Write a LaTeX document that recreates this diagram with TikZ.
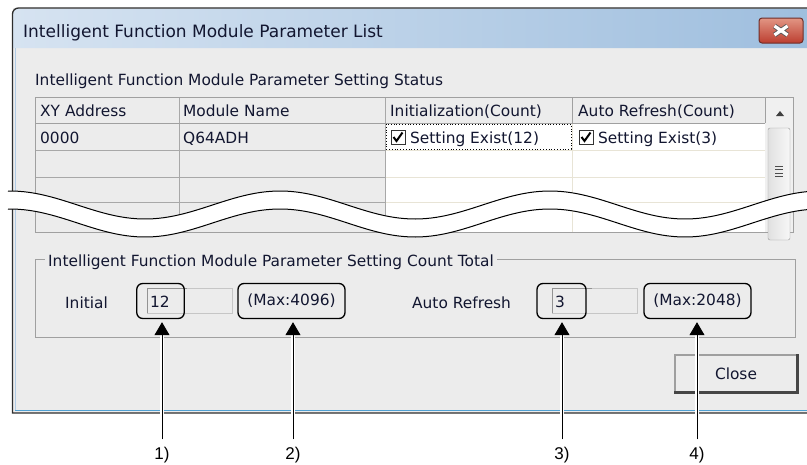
\documentclass[tikz,border=0pt]{standalone}
\usepackage{fontspec}
\setmainfont{DejaVu Sans}
\newfontfamily\numfont{Liberation Sans}
\usetikzlibrary{arrows.meta, positioning, calc}

\definecolor{winbg}{RGB}{236,236,236}
\definecolor{txt}{RGB}{18,22,48}
\definecolor{edge}{RGB}{45,45,45}
\definecolor{titleL}{RGB}{214,227,241}
\definecolor{titleR}{RGB}{158,190,222}
\definecolor{gridgray}{RGB}{168,168,168}
\definecolor{gridbeige}{RGB}{232,228,214}
\definecolor{framegray}{RGB}{160,160,160}
\definecolor{redtop}{RGB}{226,150,132}
\definecolor{redbot}{RGB}{188,62,48}
\definecolor{blueline}{RGB}{80,160,210}
\definecolor{paleblue}{RGB}{178,204,230}

\tikzset{
  body/.style={font=\fontsize{15.4}{18}\selectfont, text=txt, inner sep=0pt, anchor=base west},
  callout/.style={draw=black, line width=1.3pt, rounded corners=6pt, inner sep=0pt,
                  minimum height=35pt, font=\fontsize{15.4}{18}\selectfont, text=txt},
  numlabel/.style={font=\numfont\fontsize{17}{20}\selectfont, text=black, inner sep=0pt, anchor=base},
  pointer/.style={-{Triangle[width=15pt,length=13pt]}, line width=1pt,
                  preaction={draw=white, line width=3.5pt}},
  textfield/.style={draw=framegray!60, fill=winbg},
}

\begin{document}
\begin{tikzpicture}[x=1pt, y=-1pt]
    \useasboundingbox (0,0) rectangle (807,464);

    % Window
    \fill[winbg] (13,8) rectangle (807,413);
    \shade[left color=titleL, right color=titleR] (13,48) [rounded corners=6] -- (13,8.5) -- (820,8.5) [sharp corners] -- (820,48) -- cycle;
    \draw[paleblue, line width=1.2pt] (15.5,48) -- (15.5,410);
    \draw[blueline, line width=1.5pt] (15,410.5) -- (807,410.5);
    \draw[edge, line width=1.3pt] (807,413) -- (12.5,413) -- (12.5,30) [rounded corners=6] -- (12.5,8) -- (820,8);
    \node[font=\fontsize{17}{20}\selectfont, text=txt, inner sep=0pt, anchor=base west] (title) at (23,37) {Intelligent Function Module Parameter List};

    % Close box in the title bar
    \node[draw={rgb,255:red,110;green,45;blue,40}, line width=1pt, rounded corners=3pt,
          top color=redtop, bottom color=redbot, minimum width=44pt, minimum height=25pt] (xbtn) at (781,30.5) {};
    \foreach \s/\c in {5pt/gray!70!black, 3.2pt/white}
      \draw[\c, line width=\s] ($(xbtn.center)+(-6.5,-4.5)$) -- ($(xbtn.center)+(6.5,4.5)$)
                               ($(xbtn.center)+(-6.5,4.5)$) -- ($(xbtn.center)+(6.5,-4.5)$);

    % Setting status table
    \node[body] (status) at (35,85) {Intelligent Function Module Parameter Setting Status};
    \fill[winbg] (35,97) rectangle (385,232);
    \fill[white] (385,123) rectangle (765,232);
    \fill[white!94!black] (765,97) rectangle (793,232);
    \foreach \y in {150,177,202} {
      \draw[gridgray] (35,\y) -- (385,\y);
      \draw[gridbeige] (385,\y) -- (765,\y);
    }
    \draw[gridgray] (179,97) -- (179,232);
    \draw[gridgray] (385,97) -- (385,232);
    \draw[gridbeige] (572,123) -- (572,232);
    \draw[framegray] (572,97) -- (572,123) (765,97) -- (765,123);
    \draw[framegray] (35,123) -- (765,123);
    \draw[framegray, line width=1pt] (35,97) rectangle (793,232);

    \node[body] (hxy)   at (40,116.5)  {XY Address};
    \node[body] (hname) at (183,116.5) {Module Name};
    \node[body] (hinit) at (390,116.5) {Initialization(Count)};
    \node[body] (hauto) at (578,116.5) {Auto Refresh(Count)};

    \node[body] (xy)   at (40,143)  {0000};
    \node[body] (name) at (183,143) {Q64ADH};
    \draw[dotted, line width=0.8pt] (386,124) rectangle (571,149);
    \foreach \bx/\lab/\nm in {391/Setting Exist(12)/init, 579/Setting Exist(3)/auto} {
      \draw[gray!40!black, fill=white] (\bx,130) rectangle ++(14,14);
      \draw[line width=2pt] (\bx+2.5,137) -- (\bx+5.5,141) -- (\bx+11.5,132.5);
      \node[body] (\nm) at (\bx+19,143) {\lab};
    }

    % Scroll bar
    \fill[black!75] (776,116) -- (784,116) -- (780,111) -- cycle;
    \shade[left color=white!88!black, right color=white!97!black, draw=gray!80, rounded corners=2pt]
      (768,128) rectangle (790,240);
    \foreach \y in {166,169.5,173,176.5}
      \draw[gray!60!black, line width=1pt] (775,\y) -- (783,\y);

    % Break in the picture
    \fill[white] plot[domain=8:807, samples=150] (\x,{205-14*cos(4/3*(\x-10))})
      -- plot[domain=807:8, samples=150] (\x,{223-14*cos(4/3*(\x-10))}) -- cycle;
    \draw[line width=1pt] plot[domain=8:807, samples=150] (\x,{205-14*cos(4/3*(\x-10))});
    \draw[line width=1pt] plot[domain=8:807, samples=150] (\x,{223-14*cos(4/3*(\x-10))});

    % Setting count total
    \draw[framegray, line width=1pt] (35,259) rectangle (795,337);
    \node[body, fill=winbg, inner xsep=3pt] (total) at (45,266) {Intelligent Function Module Parameter Setting Count Total};

    \node[body] (initlab) at (65,308) {Initial};
    \node[body] (autolab) at (412,308) {Auto Refresh};
    \foreach \fx/\val in {147/12, 552/3} {
      \draw[textfield] (\fx,288) rectangle ++(85,25);
      \draw[gray!85] (\fx+0.5,313) -- (\fx+0.5,288.5) -- (\fx+40,288.5);
      \node[body] at (\fx+3,307) {\val};
    }

    \node[callout, minimum width=47.5pt] (c1) at (160.5,301) {};
    \node[callout, minimum width=107pt] (c2) at (291.5,301) {(Max:4096)};
    \node[callout, minimum width=49pt] (c3) at (561.5,301) {};
    \node[callout, minimum width=107pt] (c4) at (697.5,301) {(Max:2048)};

    % Close button
    \node[draw=gray!75, fill=winbg, line width=1.2pt, minimum width=122pt, minimum height=37pt,
          font=\fontsize{15.4}{18}\selectfont, text=txt, inner sep=0pt] (close) at (736,373.5) {Close};
    \draw[gray!55!black, line width=2.4pt] (close.north east) -- (close.south east) -- (close.south west);

    % Numbered pointers
    \node[numlabel] (n1) at (162,459) {1)};
    \node[numlabel] (n2) at (293,459) {2)};
    \node[numlabel] (n3) at (562,459) {3)};
    \node[numlabel] (n4) at (697,459) {4)};
    \foreach \i in {1,2,3,4}
      \draw[pointer, shorten <=7pt, shorten >=3pt] (n\i.north) -- (n\i.north |- c\i.south);
\end{tikzpicture}
\end{document}
